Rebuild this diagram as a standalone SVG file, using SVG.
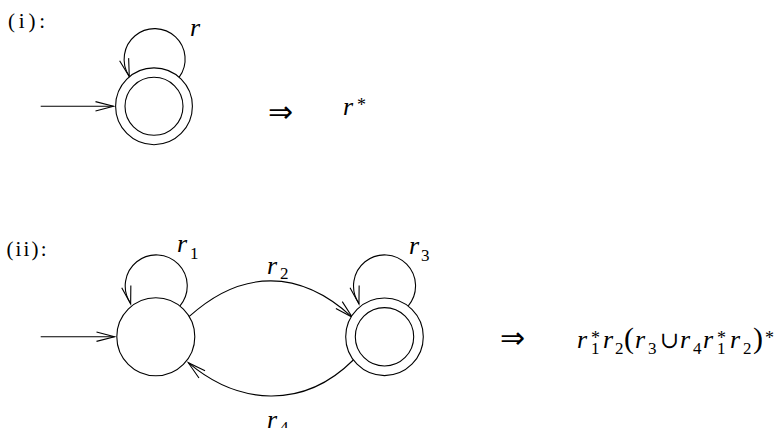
<svg xmlns="http://www.w3.org/2000/svg" width="784" height="428" viewBox="0 0 784 428">
<style>
.ln{fill:none;stroke:#000;stroke-width:1.1}
.st{fill:#fff;stroke:#000;stroke-width:1.1}
.lbl{font-family:"Liberation Serif",serif;font-size:21px;fill:#000}
.m{font-family:"Liberation Serif",serif;font-style:italic;font-size:26px;fill:#000}
.sub{font-family:"Liberation Serif",serif;font-style:normal;font-size:17px}
.sup{font-family:"Liberation Serif",serif;font-style:normal;font-size:18px}
.up{font-family:"Liberation Serif",serif;font-style:normal;font-size:30px}
.sym{font-family:"DejaVu Serif",serif;font-style:normal;font-size:23px}
.arr{font-family:"DejaVu Sans",sans-serif;font-weight:200;font-size:30px;fill:#000}
</style>
<defs>
<marker id="ah" markerUnits="userSpaceOnUse" orient="auto" refX="0" refY="0" markerWidth="1" markerHeight="1" overflow="visible">
<path d="M-18,-4.7 L0,0 L-18,4.7" fill="none" stroke="#000" stroke-width="1.1"/>
</marker>
</defs>

<text class="lbl" x="8" y="28" textLength="37" lengthAdjust="spacing">(i):</text>
<text class="lbl" x="6.5" y="256" textLength="40" lengthAdjust="spacing">(ii):</text>

<g id="connectors">
<path class="ln" d="M40.7,106.3 L113.5,106.3" marker-end="url(#ah)"/>
<path class="ln" d="M179.2,77.2 A30.5,30.5 0 1 0 129,75.7 l0.3,1" marker-end="url(#ah)"/>
<path class="ln" d="M40.7,336.7 L114.5,336.7" marker-end="url(#ah)"/>
<path class="ln" d="M180,305.8 A31,31 0 1 0 130.4,303 l0.25,1" marker-end="url(#ah)"/>
<path class="ln" d="M408.3,305.8 A31,31 0 1 0 358.7,303 l0.25,1" marker-end="url(#ah)"/>
<path class="ln" d="M189,316.7 C242,268.7 300,269 352.3,317.3" marker-end="url(#ah)"/>
<path class="ln" d="M353.3,360 C303,410 238,405 188.3,362.7" marker-end="url(#ah)"/>
</g>

<g id="node-i">
<circle class="st" cx="154" cy="106.3" r="38.4"/>
<circle class="ln" cx="154" cy="106.3" r="29"/>
</g>
<g id="node-ii-1">
<circle class="st" cx="155.8" cy="336.7" r="39"/>
</g>
<g id="node-ii-2">
<circle class="st" cx="384.5" cy="336.8" r="38.8"/>
<circle class="ln" cx="384.5" cy="336.8" r="29.2"/>
</g>

<g id="labels">
<text class="m" x="190" y="35.5">r</text>
<text class="arr" x="268" y="122">⇒</text>
<text class="m" x="343" y="115">r<tspan class="sup" x="357" y="111">*</tspan></text>

<text class="m" x="177" y="252">r<tspan class="sub" x="190" y="259">1</tspan></text>
<text class="m" x="409" y="254">r<tspan class="sub" x="421" y="261">3</tspan></text>
<text class="m" x="267" y="274">r<tspan class="sub" x="280" y="279">2</tspan></text>
<text class="m" x="267" y="428">r<tspan class="sub" x="280" y="433">4</tspan></text>

<text class="arr" x="500" y="348">⇒</text>
<text class="m" y="348"><tspan x="577">r</tspan><tspan class="sup" x="591" y="344">*</tspan><tspan class="sub" x="591" y="354">1</tspan><tspan x="603" y="348">r</tspan><tspan class="sub" x="615" y="354">2</tspan><tspan class="up" x="624" y="348">(</tspan><tspan x="635" y="348">r</tspan><tspan class="sub" x="648" y="354">3</tspan><tspan class="sym" x="660" y="348">∪</tspan><tspan x="680" y="348">r</tspan><tspan class="sub" x="693" y="354">4</tspan><tspan x="703" y="348">r</tspan><tspan class="sup" x="717" y="344">*</tspan><tspan class="sub" x="717" y="354">1</tspan><tspan x="730" y="348">r</tspan><tspan class="sub" x="743" y="354">2</tspan><tspan class="up" x="753" y="348">)</tspan><tspan class="sup" x="765" y="344">*</tspan></text>
</g>
</svg>
